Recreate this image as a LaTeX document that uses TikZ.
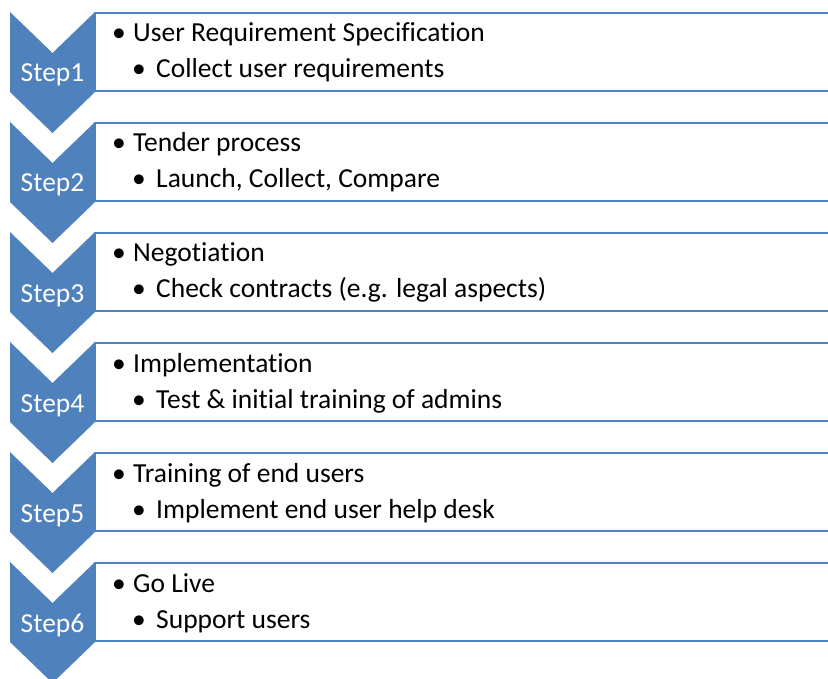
\documentclass[tikz,border=0pt]{standalone}
\usepackage{fontspec}
\setmainfont[Ligatures={NoCommon}]{Carlito}
\definecolor{chev}{HTML}{4F81BD}
\tikzset{
  chevron/.style={fill=chev,draw=none},
  stepbox/.style={draw=chev,line width=2pt,fill=white},
  steplabel/.style={text=white,font=\fontsize{27.5}{32}\selectfont,inner sep=0pt,anchor=base},
  itemtxt/.style={text=black,font=\fontsize{27.5}{32}\selectfont,inner sep=0pt,anchor=base west},
}
\begin{document}
\begin{tikzpicture}[x=1pt,y=-1pt]
\useasboundingbox (0,0) rectangle (828,679);
\clip (0,0) rectangle (828,679);
\fill[white] (0,0) rectangle (828,679);
\foreach \i/\main/\sub in {1/User Requirement Specification/Collect user requirements,
  2/Tender process/{Launch, Collect, Compare},
  3/Negotiation/Check contracts (e.g. legal aspects),
  4/Implementation/Test \& initial training of admins,
  5/Training of end users/Implement end user help desk,
  6/Go Live/Support users}{
  \pgfmathsetmacro{\yz}{12+110*(\i-1)}
  \draw[stepbox] (95,\yz+1) rectangle (840,\yz+79);
  \fill[chevron] (10,\yz) -- (52.5,\yz+41) -- (95,\yz) -- (95,\yz+80) -- (52.5,\yz+121) -- (10,\yz+80) -- cycle;
  \node[steplabel] (s\i) at (52.5,\yz+70) {Step\i};
  \node[itemtxt] (ba\i) at (112,\yz+30) {•};
  \node[itemtxt] (ma\i) at (133,\yz+30) {\main};
  \node[itemtxt] (bb\i) at (132,\yz+66) {•};
  \node[itemtxt] (mb\i) at (156,\yz+66) {\sub};
}
\end{tikzpicture}
\end{document}
